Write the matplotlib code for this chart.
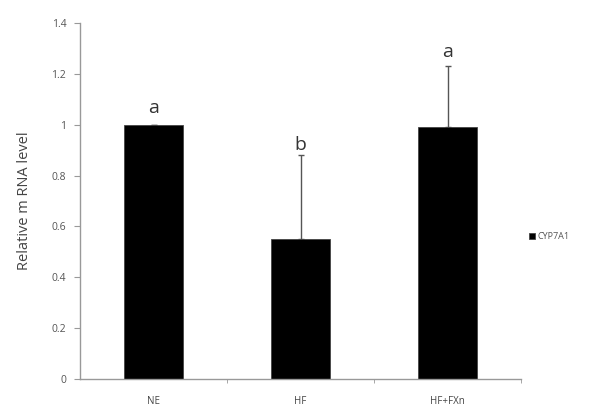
import matplotlib.pyplot as plt

groups = ["NE", "HF", "HF+FXn"]
values = [1.0, 0.55, 0.99]
errors = [0.0, 0.33, 0.24]
letters = ["a", "b", "a"]
letter_y = [1.065, 0.92, 1.285]

plt.rcParams['font.family'] = ['Open Sans', 'DejaVu Sans']

fig = plt.figure(figsize=(5.93, 4.08), dpi=100)
ax = fig.add_axes([0.135, 0.071, 0.7436, 0.8725])

x = list(range(len(groups)))
ax.bar(x, values, width=0.4, color="black", edgecolor="#444444", linewidth=0.6,
       label="CYP7A1", zorder=2)
ax.errorbar(x, values, yerr=[[0] * len(errors), errors], fmt="none",
            ecolor="#555555", elinewidth=1.0, capsize=2, capthick=1.0, zorder=1)
for xi, t, ly in zip(x, letters, letter_y):
    ax.text(xi, ly, t, ha="center", va="center", fontsize=14, color="#333333")

ax.set_xlim(-0.5, 2.5)
ax.set_ylim(0, 1.4)
ax.set_yticks([0, 0.2, 0.4, 0.6, 0.8, 1.0, 1.2, 1.4])
ax.set_yticklabels(["0", "0.2", "0.4", "0.6", "0.8", "1", "1.2", "1.4"])
ax.set_xticks(x)
ax.set_xticklabels(groups)
ax.set_xticks([0.5, 1.5, 2.5], minor=True)
ax.tick_params(axis="x", which="major", length=0, pad=12, labelsize=7, labelcolor="#444444")
ax.tick_params(axis="x", which="minor", length=3, color="#999999", direction="out")
ax.tick_params(axis="y", length=4, color="#999999", labelsize=7.5, labelcolor="#555555", pad=6)

for s in ["top", "right"]:
    ax.spines[s].set_visible(False)
for s in ["left", "bottom"]:
    ax.spines[s].set_color("#999999")
    ax.spines[s].set_linewidth(1.0)

ax.set_ylabel("Relative m RNA level", fontsize=10.5, color="#444444", labelpad=14)

ax.legend(loc="center left", bbox_to_anchor=(1.0, 0.4), frameon=False,
          fontsize=6.5, handlelength=0.6, handleheight=0.6, handletextpad=0.3,
          labelcolor="#555555")

fig.savefig("out.png", dpi=100)
